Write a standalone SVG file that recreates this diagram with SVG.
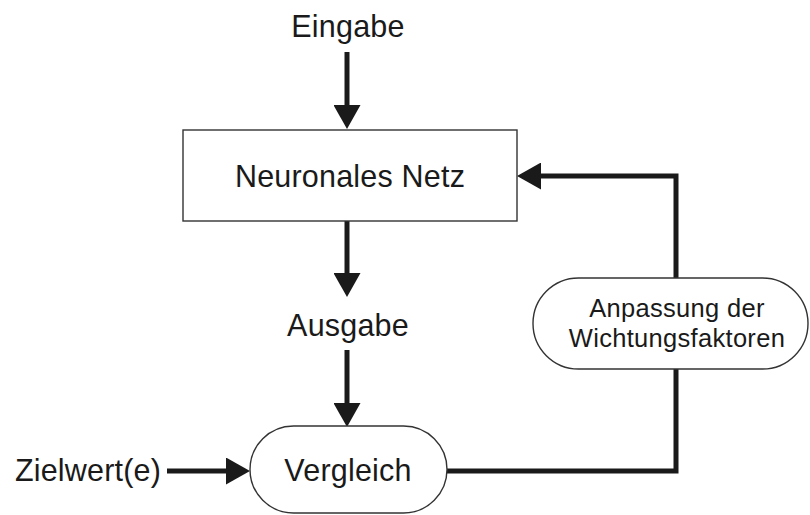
<svg xmlns="http://www.w3.org/2000/svg" width="810" height="515" viewBox="0 0 810 515">
  <style>
    .lbl { font-family: "Liberation Sans", Arial, sans-serif; fill: #1a1a1a; text-anchor: middle; }
    .big { font-size: 30.5px; letter-spacing: 0.2px; }
    .small { font-size: 25.5px; letter-spacing: 0.3px; }
    .node { fill: #ffffff; stroke: #333333; stroke-width: 1.4; }
    .conn { fill: none; stroke: #1a1a1a; stroke-width: 5; }
  </style>
  <defs>
    <marker id="head" viewBox="0 0 24 27" refX="0" refY="13.5" markerWidth="24" markerHeight="27" markerUnits="userSpaceOnUse" orient="auto">
      <path d="M0,0 L24,13.5 L0,27 Z" fill="#1a1a1a"/>
    </marker>
  </defs>
  <rect width="810" height="515" fill="#ffffff"/>

  <!-- connectors -->
  <g id="connectors">
    <path class="conn" d="M347,52 V105" marker-end="url(#head)"/>
    <path class="conn" d="M347,221 V273" marker-end="url(#head)"/>
    <path class="conn" d="M347,350 V403" marker-end="url(#head)"/>
    <path class="conn" d="M167,471 H226" marker-end="url(#head)"/>
    <path class="conn" d="M447,471 H676 V176 H541" marker-end="url(#head)"/>
  </g>

  <g id="eingabe">
    <text class="lbl big" x="348" y="37">Eingabe</text>
  </g>

  <g id="netz">
    <rect class="node" x="183" y="130" width="334" height="91"/>
    <text class="lbl big" x="350" y="187">Neuronales Netz</text>
  </g>

  <g id="ausgabe">
    <text class="lbl big" x="348" y="336">Ausgabe</text>
  </g>

  <g id="zielwert">
    <text class="lbl big" x="88" y="481">Zielwert(e)</text>
  </g>

  <g id="vergleich">
    <rect class="node" x="250" y="426" width="197" height="87" rx="43.5" ry="43.5"/>
    <text class="lbl big" x="348" y="481">Vergleich</text>
  </g>

  <g id="anpassung">
    <rect class="node" x="533" y="278" width="275" height="91" rx="45.5" ry="45.5"/>
    <text class="lbl small" x="677" y="317">Anpassung der</text>
    <text class="lbl small" x="677" y="347">Wichtungsfaktoren</text>
  </g>
</svg>
